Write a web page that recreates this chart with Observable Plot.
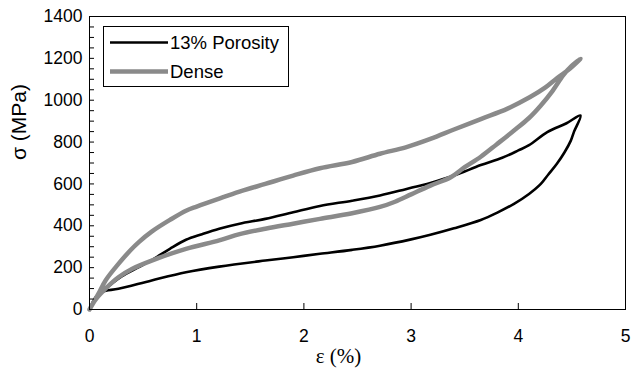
<!DOCTYPE html>
<html><head><meta charset="utf-8">
<script src="https://cdn.jsdelivr.net/npm/d3@7"></script>
<script src="https://cdn.jsdelivr.net/npm/@observablehq/plot@0.6"></script>
<style>body{margin:0;background:#fff} #chart{width:631px;height:374px}</style>
</head><body><div id="chart"></div>
<script>
const seriesNames = ["13% Porosity", "Dense"];
const seriesColors = ["#000000", "#8a8a8a"];

// 13% Porosity loop: loading (upper) then unloading (lower)
const porosityStrain = [0, 0.05, 0.12, 0.2, 0.3, 0.45, 0.6, 0.75, 0.9, 1.05, 1.21, 1.4, 1.64, 1.9, 2.15, 2.45, 2.71, 2.95, 3.18, 3.4, 3.65, 3.85, 4.0, 4.1, 4.27, 4.45, 4.58,
  4.52, 4.49, 4.43, 4.36, 4.28, 4.21, 4.1, 3.96, 3.8, 3.65, 3.4, 3.18, 3.0, 2.71, 2.45, 2.15, 1.9, 1.64, 1.21, 0.9, 0.58, 0.27, 0.12, 0.06, 0];
const porosityStress = [0, 45, 88, 120, 158, 200, 242, 290, 333, 360, 386, 410, 433, 465, 495, 520, 545, 575, 605, 640, 690, 725, 760, 785, 847, 890, 927,
  850, 807, 750, 696, 645, 600, 552, 505, 462, 428, 388, 357, 335, 305, 285, 266, 250, 234, 205, 178, 139, 99, 85, 60, 0];

// Dense loop: loading (upper) then unloading (lower)
const denseStrain = [0, 0.08, 0.15, 0.27, 0.38, 0.46, 0.58, 0.75, 0.9, 1.0, 1.21, 1.4, 1.64, 1.9, 2.15, 2.45, 2.71, 2.95, 3.18, 3.4, 3.65, 3.9, 4.11, 4.25, 4.36, 4.48, 4.58,
  4.5, 4.42, 4.32, 4.21, 4.1, 3.96, 3.8, 3.65, 3.5, 3.37, 3.18, 3.0, 2.85, 2.71, 2.45, 2.15, 1.9, 1.64, 1.4, 1.21, 0.9, 0.58, 0.4, 0.27, 0.15, 0.06, 0];
const denseStress = [0, 72, 139, 218, 282, 322, 372, 428, 472, 492, 530, 563, 600, 640, 675, 705, 744, 775, 815, 860, 910, 960, 1015, 1060, 1105, 1150, 1198,
  1165, 1120, 1045, 975, 915, 855, 790, 730, 680, 632, 592, 550, 515, 490, 460, 433, 410, 386, 360, 330, 290, 234, 195, 154, 100, 50, 0];

const xTicks = [0, 1, 2, 3, 4, 5];
const yTicks = [0, 200, 400, 600, 800, 1000, 1200, 1400];
const yMinorTicks = d3.range(0, 1401, 50);
const xLabel = "ε (%)";
const yLabel = "σ (MPa)";

const porosityRows = porosityStrain.map((e, i) => ({series: seriesNames[0], strain: e, stress: porosityStress[i]}));
const denseRows = denseStrain.map((e, i) => ({series: seriesNames[1], strain: e, stress: denseStress[i]}));

const W = 631, H = 374, mL = 89, mR = 6, mT = 16, mB = 65;
const innerW = W - mL - mR, innerH = H - mT - mB;

const plot = Plot.plot({
  width: W, height: H,
  marginLeft: mL, marginRight: mR, marginTop: mT, marginBottom: mB,
  style: {fontFamily: "'Liberation Sans', Arial, sans-serif", background: "#fff", color: "#000"},
  x: {domain: [0, 5]},
  y: {domain: [0, 1400]},
  marks: [
    Plot.line(porosityRows, {x: "strain", y: "stress", stroke: seriesColors[0], strokeWidth: 2.6, curve: "catmull-rom", strokeLinejoin: "round"}),
    Plot.line(denseRows, {x: "strain", y: "stress", stroke: seriesColors[1], strokeWidth: 4.5, curve: "catmull-rom", strokeLinejoin: "round"}),
    Plot.tickX(xTicks, {x: d => d, insetTop: innerH - 6, stroke: "#000"}),
    Plot.tickY(yMinorTicks, {y: d => d, insetRight: innerW - 5, stroke: "#000"}),
    Plot.axisX({ticks: xTicks, tickSize: 0, tickPadding: 20, fontSize: 17.5, label: null, tickFormat: d => String(d)}),
    Plot.axisY({ticks: yTicks, tickSize: 0, tickPadding: 7, fontSize: 17.5, label: null, tickFormat: d => String(d)}),
    Plot.frame({stroke: "#000"}),
    Plot.text([yLabel], {text: d => d, frameAnchor: "left", dx: -70, dy: -3, rotate: -90, fontSize: 21}),
    Plot.text([xLabel], {text: d => d, frameAnchor: "bottom", dx: -19, dy: 53, fontSize: 21, fontFamily: "'Liberation Serif', 'Times New Roman', serif"})
  ]
});

// legend box (inside plot frame, top-left)
const svg = d3.select(plot);
const lg = svg.append("g").attr("font-family", "'Liberation Sans', Arial, sans-serif").attr("font-size", 18.5).attr("text-anchor", "start");
lg.append("rect").attr("x", 103.5).attr("y", 26.5).attr("width", 185).attr("height", 60)
  .attr("fill", "#fff").attr("stroke", "#000").attr("stroke-width", 1);
const legendY = [42.5, 71.5];
const legendW = [2.6, 4.5];
seriesNames.forEach((name, i) => {
  lg.append("line").attr("x1", 110).attr("x2", 168).attr("y1", legendY[i]).attr("y2", legendY[i])
    .attr("stroke", seriesColors[i]).attr("stroke-width", legendW[i]);
  lg.append("text").attr("x", 170).attr("y", legendY[i]).attr("dy", "0.35em").attr("fill", "#000")
    .attr("text-anchor", "start").text(name);
});

document.getElementById("chart").appendChild(plot);
</script>
</body></html>
